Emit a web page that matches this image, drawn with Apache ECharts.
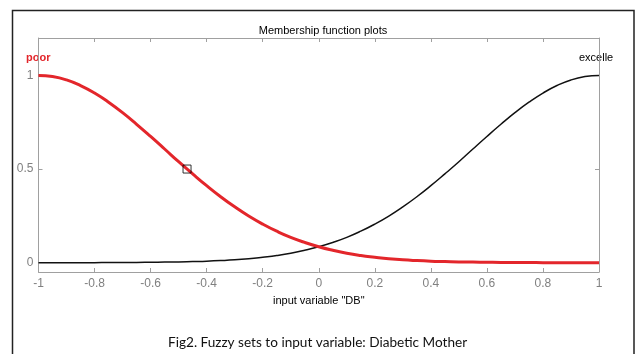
<!DOCTYPE html>
<html>
<head>
<meta charset="utf-8">
<script src="https://cdn.jsdelivr.net/npm/echarts@6/dist/echarts.min.js"></script>
<style>
html,body{margin:0;padding:0;background:#fff;}
#c{width:637px;height:354px;}
</style>
</head>
<body>
<div id="c"></div>
<script>
var xValues = [-1,-0.95,-0.9,-0.85,-0.8,-0.75,-0.7,-0.65,-0.6,-0.55,-0.5,-0.45,-0.4,-0.35,-0.3,-0.25,-0.2,-0.15,-0.1,-0.05,0,0.05,0.1,0.15,0.2,0.25,0.3,0.35,0.4,0.45,0.5,0.55,0.6,0.65,0.7,0.75,0.8,0.85,0.9,0.95,1];
var poor = [1,0.994,0.976,0.946,0.906,0.857,0.801,0.739,0.674,0.607,0.539,0.474,0.411,0.352,0.298,0.249,0.206,0.168,0.135,0.108,0.085,0.066,0.050,0.038,0.029,0.021,0.015,0.011,0.008,0.006,0.004,0.003,0.002,0.001,0.001,0.001,0,0,0,0,0];
var excellent = [0,0,0,0,0,0.001,0.001,0.001,0.002,0.003,0.004,0.006,0.008,0.011,0.015,0.021,0.029,0.038,0.050,0.066,0.085,0.108,0.135,0.168,0.206,0.249,0.298,0.352,0.411,0.474,0.539,0.607,0.674,0.739,0.801,0.857,0.906,0.946,0.976,0.994,1];
var marker = [[-0.47, 0.5]];
var xTicks = [-1,-0.8,-0.6,-0.4,-0.2,0,0.2,0.4,0.6,0.8,1];
var yTicks = [0, 0.5, 1];

function pairs(xs, ys){ return xs.map(function(x,i){ return [x, ys[i]]; }); }

var chart = echarts.init(document.getElementById('c'), null, {renderer:'canvas'});
var axisGray = '#a0a0a0';
var labelGray = '#808080';
var font = 'Liberation Sans, Arial, sans-serif';

chart.setOption({
  backgroundColor: '#fff',
  animation: false,
  title: {
    text: 'Membership function plots',
    left: 318, top: 20, textAlign: 'center',
    textStyle: {fontFamily: font, fontSize: 11, fontWeight: 'normal', color: '#000'}
  },
  grid: {left: 38.5, right: 38, top: 38, bottom: 82},
  xAxis: [{
    type: 'value', min: -1, max: 1, interval: 0.2, position: 'bottom',
    name: 'input variable "DB"', nameLocation: 'middle', nameGap: 23,
    nameTextStyle: {fontFamily: font, fontSize: 11, color: '#000'},
    axisLine: {onZero: false, lineStyle: {color: axisGray, width: 1}},
    axisTick: {inside: true, length: 4, lineStyle: {color: axisGray}},
    axisLabel: {color: labelGray, fontFamily: font, fontSize: 12, margin: 6},
    splitLine: {show: false}
  }, {
    type: 'value', min: -1, max: 1, interval: 0.2, position: 'top',
    axisLine: {onZero: false, lineStyle: {color: axisGray, width: 1}},
    axisTick: {inside: true, length: 4, lineStyle: {color: axisGray}},
    axisLabel: {show: false},
    splitLine: {show: false}
  }],
  yAxis: [{
    type: 'value', min: -0.05, max: 1.2, position: 'left',
    axisLine: {show: true, onZero: false, lineStyle: {color: axisGray, width: 1}},
    axisTick: {show: true, inside: true, length: 4, customValues: yTicks, lineStyle: {color: axisGray}},
    axisLabel: {color: labelGray, fontFamily: font, fontSize: 12, margin: 5, customValues: yTicks},
    splitLine: {show: false}
  }, {
    type: 'value', min: -0.05, max: 1.2, position: 'right',
    axisLine: {show: true, onZero: false, lineStyle: {color: axisGray, width: 1}},
    axisTick: {show: true, inside: true, length: 4, customValues: yTicks, lineStyle: {color: axisGray}},
    axisLabel: {show: false},
    splitLine: {show: false}
  }],
  series: [{
    type: 'line', name: 'excellent', data: pairs(xValues, excellent),
    smooth: true, showSymbol: false, symbol: 'none',
    lineStyle: {color: '#111', width: 1.5}, z: 2
  }, {
    type: 'line', name: 'poor', data: pairs(xValues, poor),
    smooth: true, showSymbol: false, symbol: 'none',
    lineStyle: {color: '#e3262b', width: 3}, z: 3
  }, {
    type: 'scatter', data: marker, symbol: 'rect', symbolSize: 8,
    itemStyle: {color: 'rgba(0,0,0,0)', borderColor: '#000', borderWidth: 1}, z: 5
  }],
  graphic: [{
    type: 'rect', shape: {x: 12.5, y: 10.5, width: 621.5, height: 360},
    style: {fill: 'none', stroke: '#222', lineWidth: 1.5}, silent: true
  }, {
    type: 'text', left: 26, top: 52,
    style: {text: 'poor', fill: '#e3262b', font: 'bold 11px Liberation Sans, Arial, sans-serif'}
  }, {
    type: 'text', left: 579, top: 52,
    style: {text: 'excelle', fill: '#000', font: '11px Liberation Sans, Arial, sans-serif'}
  }, {
    type: 'text', left: 168, top: 336,
    style: {text: 'Fig2. Fuzzy sets to input variable: Diabetic Mother', fill: '#111', font: '13.6px Lato, Liberation Sans, sans-serif'}
  }]
});
</script>
</body>
</html>
